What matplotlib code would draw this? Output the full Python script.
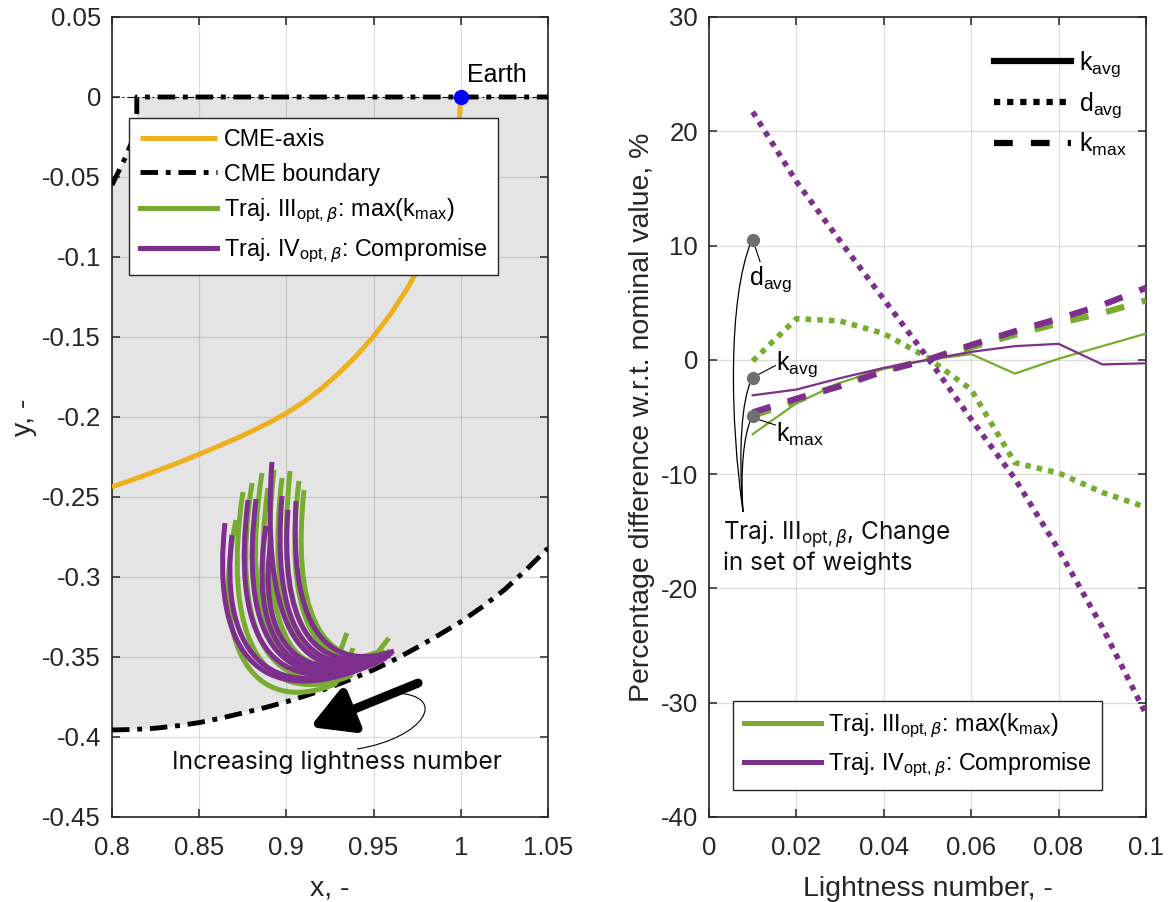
import numpy as np
import matplotlib
matplotlib.use("Agg")
import matplotlib.pyplot as plt
from matplotlib.path import Path
from matplotlib.patches import PathPatch
from matplotlib.lines import Line2D

plt.rcParams["font.family"] = ["Liberation Sans", "DejaVu Sans"]
plt.rcParams["mathtext.fontset"] = "dejavusans"

ORANGE = "#EDB120"
GREEN = "#77AC30"
PURPLE = "#7E2F8E"
INK = "#262626"
NOTE_FONT = ["Inter", "Open Sans", "DejaVu Sans"]

# ---------------- left panel: trajectories in the rotating frame ----------------
x_ticks = [0.8, 0.85, 0.9, 0.95, 1.0, 1.05]
x_tick_labels = ["0.8", "0.85", "0.9", "0.95", "1", "1.05"]
y_ticks = [0.05, 0.0, -0.05, -0.1, -0.15, -0.2, -0.25, -0.3, -0.35, -0.4, -0.45]
y_tick_labels = ["0.05", "0", "-0.05", "-0.1", "-0.15", "-0.2", "-0.25",
                 "-0.3", "-0.35", "-0.4", "-0.45"]

# CME axis (curved spiral towards Earth)
cme_axis_x = [0.80, 0.81, 0.82, 0.83, 0.84, 0.85, 0.86, 0.87, 0.88, 0.89, 0.90,
              0.91, 0.92, 0.93, 0.94, 0.95, 0.96, 0.97, 0.98, 0.99, 0.995,
              0.998, 1.000]
cme_axis_y = [-0.2437, -0.2399, -0.2360, -0.2319, -0.2277, -0.2233, -0.2187,
              -0.2140, -0.2090, -0.2036, -0.1976, -0.1906, -0.1823, -0.1727,
              -0.1619, -0.1496, -0.1353, -0.1185, -0.0978, -0.0699, -0.0496,
              -0.0314, 0.0]

# CME boundary: upper edge (clipped at y = 0) and lower edge
cme_upper_x = [0.800, 0.804, 0.808, 0.811, 0.8132, 0.8142, 0.8142, 1.05]
cme_upper_y = [-0.055, -0.046, -0.037, -0.029, -0.020, -0.010, 0.0, 0.0]
cme_lower_x = [0.80, 0.8125, 0.825, 0.8375, 0.85, 0.8625, 0.875, 0.8875, 0.90,
               0.9125, 0.925, 0.9375, 0.95, 0.9625, 0.975, 0.9875, 1.0, 1.0125,
               1.025, 1.0375, 1.05]
cme_lower_y = [-0.3956, -0.3953, -0.3945, -0.3930, -0.3910, -0.3882, -0.3850,
               -0.3817, -0.3780, -0.3737, -0.3690, -0.3637, -0.3580, -0.3514,
               -0.3440, -0.3362, -0.3280, -0.3185, -0.3080, -0.2955, -0.2820]

earth_x, earth_y = 1.0, 0.0

# Trajectory III (max k_max), one Bezier per lightness number:
# start, two control points, end of arc, final point
traj3_x = [
    [0.8711, 0.8562, 0.8803, 0.9279, 0.9307],
    [0.8751, 0.8631, 0.8837, 0.9365, 0.9394],
    [0.8803, 0.8677, 0.8883, 0.9405, 0.9428],
    [0.8860, 0.8734, 0.8929, 0.9440, 0.9462],
    [0.8894, 0.8791, 0.8975, 0.9307, 0.9347],
    [0.8929, 0.8837, 0.9009, 0.9365, 0.9382],
    [0.8975, 0.8883, 0.9055, 0.9491, 0.9514],
    [0.9021, 0.8940, 0.9101, 0.9525, 0.9588],
    [0.9072, 0.8986, 0.9135, 0.9537, 0.9560],
    [0.9101, 0.9032, 0.9181, 0.9571, 0.9594],
]
traj3_y = [
    [-0.2644, -0.3425, -0.3880, -0.3669, -0.3619],
    [-0.2469, -0.3331, -0.3845, -0.3619, -0.3569],
    [-0.2413, -0.3300, -0.3810, -0.3569, -0.3519],
    [-0.2350, -0.3269, -0.3775, -0.3544, -0.3500],
    [-0.2444, -0.3281, -0.3740, -0.3469, -0.3350],
    [-0.2331, -0.3219, -0.3715, -0.3494, -0.3444],
    [-0.2381, -0.3219, -0.3680, -0.3519, -0.3481],
    [-0.2338, -0.3194, -0.3645, -0.3469, -0.3381],
    [-0.2400, -0.3175, -0.3620, -0.3494, -0.3456],
    [-0.2456, -0.3175, -0.3585, -0.3494, -0.3456],
]

# Trajectory IV (compromise), one Bezier per lightness number
traj4_x = [
    [0.8648, 0.8573, 0.8791, 0.9525],
    [0.8688, 0.8619, 0.8837, 0.9548],
    [0.8780, 0.8688, 0.8877, 0.9571],
    [0.8826, 0.8734, 0.8917, 0.9583],
    [0.8883, 0.8791, 0.8963, 0.9594],
    [0.8912, 0.8837, 0.9009, 0.9606],
    [0.8917, 0.8860, 0.9032, 0.9565],
    [0.8975, 0.8917, 0.9078, 0.9594],
    [0.9009, 0.8963, 0.9124, 0.9606],
    [0.9055, 0.9021, 0.9170, 0.9617],
]
traj4_y = [
    [-0.2663, -0.3394, -0.3890, -0.3531],
    [-0.2738, -0.3394, -0.3864, -0.3519],
    [-0.2519, -0.3331, -0.3838, -0.3506],
    [-0.2513, -0.3319, -0.3812, -0.3494],
    [-0.2681, -0.3331, -0.3775, -0.3488],
    [-0.2763, -0.3331, -0.3750, -0.3475],
    [-0.2281, -0.3206, -0.3736, -0.3500],
    [-0.2494, -0.3238, -0.3699, -0.3481],
    [-0.2581, -0.3238, -0.3660, -0.3469],
    [-0.2525, -0.3206, -0.3622, -0.3463],
]

# ---------------- right panel: sensitivity to lightness number ----------------
lightness = [0.01, 0.02, 0.03, 0.04, 0.05, 0.06, 0.07, 0.08, 0.09, 0.10]
k_avg_III = [-6.5, -3.8, -2.0, -0.8, 0.0, 0.5, -1.2, 0.1, 1.2, 2.3]
k_avg_IV = [-3.1, -2.6, -1.6, -0.7, 0.0, 0.7, 1.2, 1.4, -0.4, -0.3]
d_avg_III = [-0.1, 3.6, 3.4, 2.3, 0.2, -2.6, -9.0, -9.9, -11.6, -12.9]
d_avg_IV = [21.7, 15.6, 10.4, 5.3, 0.2, -5.2, -10.4, -16.6, -23.4, -31.0]
k_max_III = [-4.9, -3.6, -2.2, -0.9, 0.0, 1.1, 2.2, 3.2, 4.1, 5.2]
k_max_IV = [-4.6, -3.4, -2.3, -1.0, 0.0, 1.3, 2.5, 3.6, 4.8, 6.3]

r_x_ticks = [0, 0.02, 0.04, 0.06, 0.08, 0.1]
r_x_tick_labels = ["0", "0.02", "0.04", "0.06", "0.08", "0.1"]
r_y_ticks = [-40, -30, -20, -10, 0, 10, 20, 30]
r_y_tick_labels = ["-40", "-30", "-20", "-10", "0", "10", "20", "30"]

# markers for the weight-change callout (Traj. III at lowest lightness)
marker_x = [0.01, 0.01, 0.01]
marker_y = [10.5, -1.6, -4.9]

DOT = (1.0, 1.1)
DASH = (3.0, 2.9)
DASHDOT = (3.6, 1.6, 1.0, 1.6)


def soften(img, dpi):
    sigma = 2.0
    rad = int(3 * sigma) + 1
    k = np.exp(-0.5 * (np.arange(-rad, rad + 1) / sigma) ** 2)
    k /= k.sum()
    a = np.pad(img, ((rad, rad), (rad, rad), (0, 0)))
    a = np.apply_along_axis(lambda m: np.convolve(m, k, mode="same"), 0, a)
    a = np.apply_along_axis(lambda m: np.convolve(m, k, mode="same"), 1, a)
    return a, -rad, -rad


def style_axes(ax):
    for sp in ax.spines.values():
        sp.set_color(INK)
        sp.set_linewidth(1.2)
    ax.tick_params(direction="in", length=6, width=1.1, top=True, right=True,
                   colors=INK, labelsize=18.5)
    ax.tick_params(axis="x", pad=14)
    ax.tick_params(axis="y", pad=8)
    ax.grid(True, color=INK, alpha=0.15, lw=0.9)
    ax.set_axisbelow(False)


fig = plt.figure(figsize=(11.68, 9.02), dpi=100)

# ======================= left panel =======================
ax1 = fig.add_axes([112 / 1168, 85 / 902, 436 / 1168, 800 / 902])
fill_x = list(cme_upper_x) + list(cme_lower_x[::-1])
fill_y = list(cme_upper_y) + list(cme_lower_y[::-1])
ax1.fill(fill_x, fill_y, color="#e4e4e4", lw=0, zorder=0)
ax1.plot([0.8, 1.05], [0.0, 0.0], color="k", lw=0.8, dashes=(6, 3, 1.5, 3), zorder=1)

h_axis, = ax1.plot(cme_axis_x, cme_axis_y, color=ORANGE, lw=3.6, zorder=3,
                   solid_capstyle="butt", solid_joinstyle="round", label="CME-axis")
h_bound, = ax1.plot(cme_upper_x, cme_upper_y, color="k", lw=3.5, dashes=DASHDOT,
                    zorder=4, label="CME boundary")
ax1.plot(cme_lower_x, cme_lower_y, color="k", lw=3.5, dashes=DASHDOT, zorder=4)

for xs, ys in zip(traj3_x, traj3_y):
    verts = list(zip(xs, ys))
    codes = [Path.MOVETO, Path.CURVE4, Path.CURVE4, Path.CURVE4, Path.LINETO]
    ax1.add_patch(PathPatch(Path(verts, codes), fill=False, edgecolor=GREEN,
                            lw=3.6, capstyle="butt", joinstyle="round", zorder=5))
for xs, ys in zip(traj4_x, traj4_y):
    verts = list(zip(xs, ys))
    codes = [Path.MOVETO, Path.CURVE4, Path.CURVE4, Path.CURVE4]
    ax1.add_patch(PathPatch(Path(verts, codes), fill=False, edgecolor=PURPLE,
                            lw=3.6, capstyle="butt", joinstyle="round", zorder=6))

ax1.plot([earth_x], [earth_y], "o", color="#0000ff", ms=10, zorder=8, clip_on=False)
ax1.text(1.0036, 0.0138, "Earth", fontsize=18, color="k", va="center", ha="left")

# arrow showing the trend with lightness number
arr = ax1.annotate("", xy=(0.9135, -0.3938), xytext=(0.9755, -0.3663),
                   arrowprops=dict(arrowstyle="-|>,head_length=1.25,head_width=0.7",
                                   lw=6.5, color="k", shrinkA=0, shrinkB=0,
                                   mutation_scale=20),
                   zorder=7)
arr.arrow_patch.set_agg_filter(soften)
lead = Path([(0.9405, -0.4075), (0.9795, -0.4006), (0.9938, -0.3738), (0.9623, -0.3725)],
            [Path.MOVETO, Path.CURVE4, Path.CURVE4, Path.CURVE4])
ax1.add_patch(PathPatch(lead, fill=False, edgecolor="k", lw=0.8, zorder=7))
ax1.text(0.9290, -0.4156, "Increasing lightness number", fontsize=17.8,
         family=NOTE_FONT, ha="center", va="center", color="#111111")

ax1.set_xlim(0.8, 1.05)
ax1.set_ylim(-0.45, 0.05)
ax1.set_xticks(x_ticks)
ax1.set_xticklabels(x_tick_labels)
ax1.set_yticks(y_ticks)
ax1.set_yticklabels(y_tick_labels)
style_axes(ax1)
ax1.set_xlabel("x, -", fontsize=20.5, color=INK, labelpad=11)
ax1.set_ylabel("y, -", fontsize=20.5, color=INK, labelpad=4)

left_handles = [
    h_axis, h_bound,
    Line2D([], [], color=GREEN, lw=3.6),
    Line2D([], [], color=PURPLE, lw=3.6),
]
left_labels = [
    "CME-axis", "CME boundary",
    r"Traj. III$_{\mathregular{opt,}\beta}$: max(k$_{\mathregular{max}}$)",
    r"Traj. IV$_{\mathregular{opt,}\beta}$: Compromise",
]
leg1 = ax1.legend(left_handles, left_labels, loc="upper left",
                  bbox_to_anchor=(0.039, 0.874), borderaxespad=0, fontsize=16.8,
                  handlelength=3.3, handletextpad=0.3, borderpad=0.45,
                  labelspacing=0.48, fancybox=False, framealpha=1, edgecolor=INK)
leg1.get_frame().set_linewidth(1.0)
leg1.set_zorder(10)

# ======================= right panel =======================
ax2 = fig.add_axes([709 / 1168, 85 / 902, 437 / 1168, 800 / 902])
ax2.plot(lightness, k_avg_III, color=GREEN, lw=1.6, zorder=3)
ax2.plot(lightness, d_avg_III, color=GREEN, lw=4.0, dashes=DOT, zorder=3)
ax2.plot(lightness, k_max_III, color=GREEN, lw=4.5, dashes=DASH, zorder=3)
ax2.plot(lightness, k_avg_IV, color=PURPLE, lw=1.6, zorder=4)
ax2.plot(lightness, d_avg_IV, color=PURPLE, lw=4.0, dashes=DOT, zorder=4)
ax2.plot(lightness, k_max_IV, color=PURPLE, lw=4.5, dashes=DASH, zorder=4)

# callout for Traj. III, change in set of weights
ax2.plot(marker_x, marker_y, "o", color="#6f6f6f", ms=8.5, zorder=6)
hub = (0.00779, -13.3)
for cps in [
    [(0.00481, -5.25), (0.00435, 5.25), (0.00962, 10.32)],
    [(0.00664, -7.87), (0.00756, -3.50), (0.00962, -1.84)],
    [(0.00710, -9.62), (0.00802, -6.56), (0.00962, -5.16)],
]:
    p = Path([hub] + cps, [Path.MOVETO, Path.CURVE4, Path.CURVE4, Path.CURVE4])
    ax2.add_patch(PathPatch(p, fill=False, edgecolor="k", lw=0.9, zorder=5))
ax2.plot([0.01045, 0.01168], [10.0, 8.6], color="k", lw=0.8, zorder=5)
ax2.plot([0.0112, 0.0152], [-1.3, -0.5], color="k", lw=0.8, zorder=5)
ax2.plot([0.0112, 0.0152], [-5.2, -5.7], color="k", lw=0.8, zorder=5)
ax2.text(0.0091, 8.4, r"d$_{\mathregular{avg}}$", fontsize=18, va="top", ha="left")
ax2.text(0.0153, 0.9, r"k$_{\mathregular{avg}}$", fontsize=18, va="top", ha="left")
ax2.text(0.0153, -5.3, r"k$_{\mathregular{max}}$", fontsize=18, va="top", ha="left")
ax2.text(0.0031, -13.9,
         "Traj. III$_{\\mathregular{opt,}\\beta}$, Change\nin set of weights",
         fontsize=17.5, family=NOTE_FONT, va="top", ha="left", color="#111111",
         linespacing=1.05)

ax2.set_xlim(0, 0.1)
ax2.set_ylim(-40, 30)
ax2.set_xticks(r_x_ticks)
ax2.set_xticklabels(r_x_tick_labels)
ax2.set_yticks(r_y_ticks)
ax2.set_yticklabels(r_y_tick_labels)
style_axes(ax2)
ax2.set_xlabel("Lightness number, -", fontsize=20.5, color=INK, labelpad=11)
ax2.set_ylabel("Percentage difference w.r.t. nominal value, %", fontsize=20.5,
               color=INK, labelpad=4)

style_handles = [
    Line2D([], [], color="k", lw=4.5),
    Line2D([], [], color="k", lw=4.5, dashes=DOT),
    Line2D([], [], color="k", lw=4.5, dashes=DASH),
]
style_labels = [r"k$_{\mathregular{avg}}$", r"d$_{\mathregular{avg}}$",
                r"k$_{\mathregular{max}}$"]
leg2 = ax2.legend(style_handles, style_labels, loc="upper left",
                  bbox_to_anchor=(0.652, 0.960), borderaxespad=0, borderpad=0,
                  frameon=False, fontsize=18, handlelength=3.1, handletextpad=0.3,
                  labelspacing=0.45)
ax2.add_artist(leg2)

traj_handles = [Line2D([], [], color=GREEN, lw=3.6), Line2D([], [], color=PURPLE, lw=3.6)]
traj_labels = [
    r"Traj. III$_{\mathregular{opt,}\beta}$: max(k$_{\mathregular{max}}$)",
    r"Traj. IV$_{\mathregular{opt,}\beta}$: Compromise",
]
leg3 = ax2.legend(traj_handles, traj_labels, loc="lower left",
                  bbox_to_anchor=(0.055, 0.034), borderaxespad=0, fontsize=16.8,
                  handlelength=3.3, handletextpad=0.3, borderpad=0.45,
                  labelspacing=0.48, fancybox=False, framealpha=1, edgecolor=INK)
leg3.get_frame().set_linewidth(1.0)

fig.savefig("out.png", dpi=100)
